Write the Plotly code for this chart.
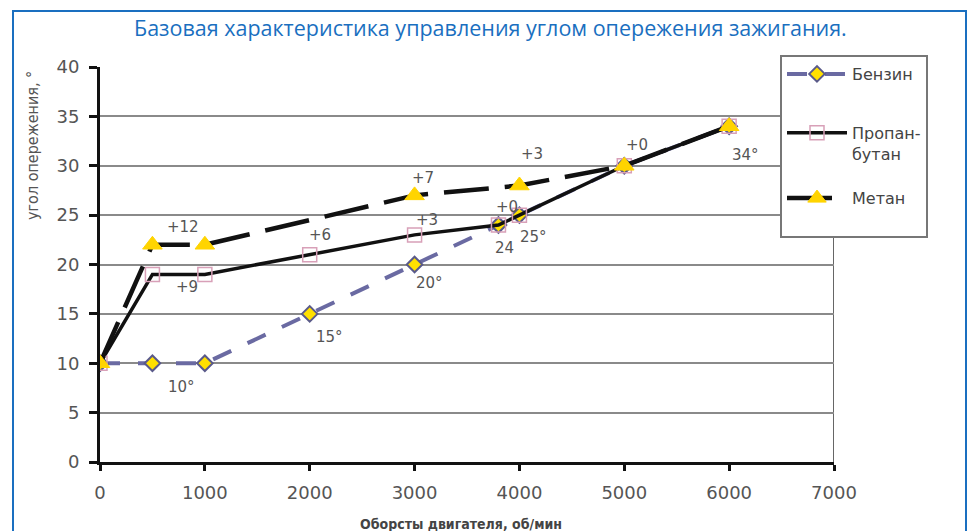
import plotly.graph_objects as go

# ---- data ----
benzin_x = [0, 500, 1000, 2000, 3000, 3800, 4000, 5000, 6000]
benzin_y = [10, 10, 10, 15, 20, 24, 25, 30, 34]
propan_x = [0, 500, 1000, 2000, 3000, 3800, 4000, 5000, 6000]
propan_y = [10, 19, 19, 21, 23, 24, 25, 30, 34]
metan_x = [0, 500, 1000, 3000, 4000, 5000, 6000]
metan_y = [10, 22, 22, 27, 28, 30, 34]

series_names = ["Бензин", "Пропан-<br>бутан<br> ", "Метан<br> "]

label_text = ["10°", "15°", "20°", "24", "25°", "34°",
              "+12", "+9", "+6", "+3", "+7", "+0", "+3", "+0"]
label_x = [780, 2190, 3145, 3860, 4130, 6160,
           790, 830, 2100, 3115, 3080, 3880, 4120, 5120]
label_y = [7.6, 12.7, 18.1, 21.7, 22.8, 31.1,
           23.8, 17.7, 23.0, 24.5, 28.8, 25.8, 31.2, 32.1]

x_ticks = [0, 1000, 2000, 3000, 4000, 5000, 6000, 7000]
y_ticks = [0, 5, 10, 15, 20, 25, 30, 35, 40]

title_text = "Базовая характеристика управления углом опережения зажигания."
x_title = "Оборсты двигателя, об/мин"
y_title = "угол опережения, °"

# ---- figure ----
W, H = 968, 531
L, R, T, B = 100, 134, 67, 69
pw, ph = W - L - R, H - T - B

def px2paper_x(px):
    return (px - L) / pw

def px2paper_y(py):
    return (H - B - py) / ph

fig = go.Figure()

fig.add_trace(go.Scatter(
    x=benzin_x, y=benzin_y, name=series_names[0], mode="lines+markers",
    line=dict(color="#6a6aa2", width=4, dash="20px,18px"),
    marker=dict(symbol="diamond", size=12, color="#ffe000",
                line=dict(color="#5a5a8a", width=2)),
    legendgroup="a",
))
fig.add_trace(go.Scatter(
    x=propan_x, y=propan_y, name=series_names[1], mode="lines+markers",
    line=dict(color="#111111", width=3.5),
    marker=dict(symbol="square-open", size=14, color="#d8a0b8",
                line=dict(color="#d8a0b8", width=1.5)),
    legendgroup="b",
))
fig.add_trace(go.Scatter(
    x=metan_x, y=metan_y, name=series_names[2], mode="lines+markers",
    line=dict(color="#111111", width=4.5, dash="45px,16px"),
    marker=dict(symbol="triangle-up", size=17, color="#ffd400",
                line=dict(color="#ffd400", width=1)),
    legendgroup="b",
))

annotations = []
for t, x, y in zip(label_text, label_x, label_y):
    annotations.append(dict(x=x, y=y, xref="x", yref="y", text=t, showarrow=False,
                            font=dict(family="DejaVu Sans", size=15, color="#555555")))

annotations.append(dict(x=px2paper_x(490), y=px2paper_y(28), xref="paper", yref="paper",
                        xanchor="center", yanchor="middle",
                        text=title_text, showarrow=False,
                        font=dict(family="Open Sans", size=21.5, color="#1a6fc0")))
annotations.append(dict(x=px2paper_x(32), y=px2paper_y(146), xref="paper", yref="paper",
                        xanchor="center", yanchor="middle",
                        text=y_title, showarrow=False, textangle=-90,
                        font=dict(family="DejaVu Sans Condensed", size=16, color="#555555")))
annotations.append(dict(x=px2paper_x(461), y=px2paper_y(524), xref="paper", yref="paper",
                        xanchor="center", yanchor="middle",
                        text="<b>" + x_title + "</b>", showarrow=False,
                        font=dict(family="DejaVu Sans Condensed", size=14, color="#444444")))

shapes = [
    # right border of plot
    dict(type="line", xref="x", yref="paper", x0=7000, x1=7000, y0=0, y1=1,
         line=dict(color="#666666", width=2), layer="below"),
    # blue frame
    dict(type="rect", xref="paper", yref="paper",
         x0=px2paper_x(13), x1=px2paper_x(966), y0=px2paper_y(560), y1=px2paper_y(11),
         line=dict(color="#1a6fc0", width=2)),
]

fig.update_layout(
    width=W, height=H,
    margin=dict(l=L, r=R, t=T, b=B),
    paper_bgcolor="white", plot_bgcolor="white",
    showlegend=True,
    legend=dict(x=px2paper_x(780), y=px2paper_y(55), xanchor="left", yanchor="top",
                bgcolor="white", bordercolor="#777777", borderwidth=2,
                font=dict(family="DejaVu Sans", size=16, color="#444444"),
                tracegroupgap=35, itemwidth=60, traceorder="grouped", valign="top"),
    annotations=annotations,
    shapes=shapes,
    xaxis=dict(range=[0, 7000], tickvals=x_ticks, showgrid=False, zeroline=False,
               showline=True, linecolor="#111111", linewidth=3,
               ticks="outside", ticklen=6, tickwidth=3, tickcolor="#111111",
               ticklabelstandoff=6,
               tickfont=dict(family="DejaVu Sans", size=18, color="#555555")),
    yaxis=dict(range=[0, 40], tickvals=y_ticks, showgrid=True, gridcolor="#8a8a8a",
               gridwidth=2, zeroline=False,
               showline=True, linecolor="#111111", linewidth=3,
               ticks="outside", ticklen=8, tickwidth=3, tickcolor="#111111",
               ticklabelstandoff=6,
               tickfont=dict(family="DejaVu Sans", size=18, color="#555555")),
)

fig.write_html("out.html")
